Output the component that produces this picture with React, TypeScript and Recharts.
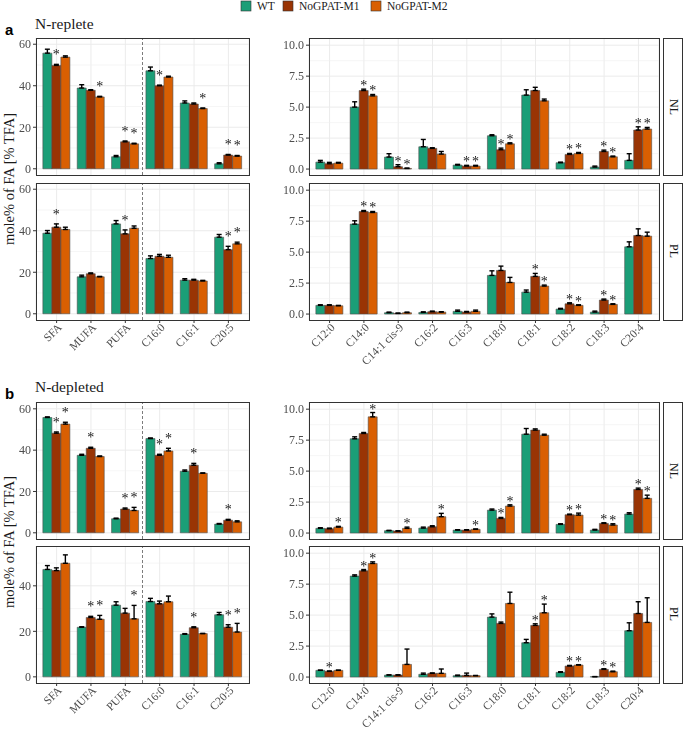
import React from "react";
import { BarChart, Bar, XAxis, YAxis, CartesianGrid, ErrorBar, LabelList, ReferenceLine } from "recharts";

const SERIF = "'Liberation Serif', 'Times New Roman', serif";
const SANS = "'Liberation Sans', Arial, sans-serif";

const GENOTYPES = ["WT", "NoGPAT-M1", "NoGPAT-M2"];
const COLORS = ["#1b9e77", "#993404", "#d95f02"];

const CLASS_CATS = ["SFA", "MUFA", "PUFA", "C16:0", "C16:1", "C20:5"];
const SPECIES_CATS = ["C12:0", "C14:0", "C14:1 cis-9", "C16:2", "C16:3", "C18:0", "C18:1", "C18:2", "C18:3", "C20:4"];

const CLASS_TICKS = [0, 20, 40, 60];
const CLASS_MINOR = [10, 30, 50];
const SPECIES_TICKS = [0, 2.5, 5, 7.5, 10];
const SPECIES_MINOR = [1.25, 3.75, 6.25, 8.75];

// rows: [WT, NoGPAT-M1, NoGPAT-M2]
// a: N-replete, NL
const A_NL_CLASS_MEAN = [[55.7, 49.8, 53.8], [38.9, 37.8, 34.6], [5.8, 13.0, 12.0], [47.2, 40.0, 44.2], [31.7, 31.2, 29.0], [2.4, 6.6, 6.1]];
const A_NL_CLASS_SD = [[1.9, 0.5, 0.6], [1.6, 0.3, 0.3], [0.6, 0.4, 0.3], [1.8, 0.3, 0.4], [1.0, 0.5, 0.3], [0.5, 0.3, 0.3]];
const A_NL_CLASS_SIG = [[0, 1, 0], [0, 0, 1], [0, 1, 1], [0, 1, 0], [0, 0, 1], [0, 1, 1]];

const A_NL_SPECIES_MEAN = [[0.56, 0.43, 0.48], [5.0, 6.34, 5.91], [0.97, 0.19, 0.05], [1.8, 1.67, 1.21], [0.32, 0.24, 0.24], [2.69, 1.56, 2.04], [5.97, 6.34, 5.51], [0.51, 1.18, 1.26], [0.16, 1.42, 0.99], [0.7, 3.15, 3.23]];
const A_NL_SPECIES_SD = [[0.14, 0.11, 0.06], [0.43, 0.11, 0.11], [0.27, 0.16, 0.03], [0.59, 0.05, 0.21], [0.06, 0.06, 0.06], [0.08, 0.13, 0.08], [0.43, 0.26, 0.14], [0.05, 0.08, 0.08], [0.08, 0.11, 0.06], [0.54, 0.26, 0.13]];
const A_NL_SPECIES_SIG = [[0, 0, 0], [0, 1, 1], [0, 1, 1], [0, 0, 0], [0, 1, 1], [0, 1, 1], [0, 0, 0], [0, 1, 1], [0, 1, 1], [0, 1, 1]];

// a: N-replete, PL
const A_PL_CLASS_MEAN = [[38.8, 41.7, 40.6], [17.8, 19.3, 17.8], [43.3, 38.5, 41.2], [26.6, 27.7, 27.2], [16.2, 16.2, 15.8], [36.9, 30.9, 33.7]];
const A_PL_CLASS_SD = [[1.3, 1.6, 1.1], [0.8, 0.4, 0.2], [1.6, 1.9, 1.1], [1.3, 0.9, 1.0], [0.7, 0.4, 0.3], [1.3, 1.6, 0.8]];
const A_PL_CLASS_SIG = [[0, 1, 0], [0, 0, 0], [0, 1, 0], [0, 0, 0], [0, 0, 0], [0, 1, 1]];

const A_PL_SPECIES_MEAN = [[0.7, 0.7, 0.67], [7.26, 8.28, 8.2], [0.11, 0.05, 0.11], [0.13, 0.19, 0.16], [0.22, 0.16, 0.22], [3.12, 3.52, 2.55], [1.77, 3.04, 2.26], [0.4, 0.83, 0.7], [0.16, 1.13, 0.78], [5.43, 6.34, 6.29]];
const A_PL_SPECIES_SD = [[0.05, 0.05, 0.03], [0.27, 0.08, 0.08], [0.05, 0.03, 0.05], [0.05, 0.05, 0.03], [0.1, 0.05, 0.1], [0.37, 0.35, 0.41], [0.17, 0.24, 0.08], [0.06, 0.08, 0.05], [0.08, 0.08, 0.05], [0.4, 0.54, 0.32]];
const A_PL_SPECIES_SIG = [[0, 0, 0], [0, 1, 1], [0, 0, 0], [0, 0, 0], [0, 0, 0], [0, 0, 0], [0, 1, 1], [0, 1, 1], [0, 1, 1], [0, 0, 0]];

// b: N-depleted, NL
const B_NL_CLASS_MEAN = [[55.8, 48.2, 52.6], [37.5, 40.9, 36.9], [6.8, 11.5, 10.8], [45.6, 37.5, 39.6], [29.8, 32.7, 28.8], [4.2, 6.1, 5.3]];
const B_NL_CLASS_SD = [[0.3, 0.6, 0.9], [0.5, 0.5, 0.3], [0.3, 0.5, 1.5], [0.3, 0.5, 1.3], [0.6, 0.9, 0.2], [0.3, 0.4, 0.5]];
const B_NL_CLASS_SIG = [[0, 1, 1], [0, 1, 0], [0, 1, 1], [0, 1, 1], [0, 1, 0], [0, 1, 0]];

const B_NL_SPECIES_MEAN = [[0.38, 0.35, 0.48], [7.61, 8.04, 9.38], [0.19, 0.16, 0.38], [0.4, 0.51, 1.32], [0.24, 0.24, 0.3], [1.85, 1.18, 2.18], [7.98, 8.31, 7.9], [0.7, 1.48, 1.45], [0.24, 0.78, 0.65], [1.53, 3.52, 2.8]];
const B_NL_SPECIES_SD = [[0.05, 0.05, 0.06], [0.16, 0.08, 0.35], [0.03, 0.02, 0.1], [0.08, 0.08, 0.27], [0.03, 0.03, 0.03], [0.09, 0.08, 0.1], [0.46, 0.1, 0.08], [0.05, 0.05, 0.16], [0.06, 0.05, 0.1], [0.11, 0.11, 0.26]];
const B_NL_SPECIES_SIG = [[0, 0, 1], [0, 0, 1], [0, 0, 1], [0, 0, 1], [0, 0, 1], [0, 1, 1], [0, 0, 0], [0, 1, 1], [0, 1, 1], [0, 1, 1]];

// b: N-depleted, PL
const B_PL_CLASS_MEAN = [[47.2, 46.7, 49.9], [21.8, 26.1, 25.3], [31.5, 28.0, 25.5], [33.1, 32.1, 33.0], [18.7, 21.6, 19.0], [27.3, 21.8, 19.7]];
const B_PL_CLASS_SD = [[1.7, 1.2, 3.7], [0.2, 0.5, 1.7], [1.5, 2.1, 5.9], [1.4, 1.2, 2.5], [0.3, 0.4, 0.1], [1.0, 1.1, 3.8]];
const B_PL_CLASS_SIG = [[0, 0, 0], [0, 1, 1], [0, 0, 1], [0, 0, 0], [0, 1, 0], [0, 1, 1]];

const B_PL_SPECIES_MEAN = [[0.54, 0.46, 0.54], [8.15, 8.58, 9.17], [0.16, 0.16, 1.02], [0.22, 0.3, 0.3], [0.11, 0.13, 0.11], [4.84, 4.33, 5.94], [2.77, 4.17, 5.19], [0.38, 0.89, 0.97], [0.03, 0.62, 0.43], [3.74, 5.13, 4.41]];
const B_PL_SPECIES_SD = [[0.02, 0.03, 0.02], [0.1, 0.1, 0.13], [0.02, 0.02, 1.24], [0.1, 0.03, 0.35], [0.05, 0.19, 0.02], [0.26, 0.11, 0.91], [0.27, 0.13, 0.7], [0.05, 0.05, 0.03], [0.01, 0.05, 0.05], [0.64, 0.95, 1.99]];
const B_PL_SPECIES_SIG = [[0, 1, 0], [0, 1, 1], [0, 0, 0], [0, 0, 0], [0, 0, 0], [0, 0, 0], [0, 1, 1], [0, 1, 1], [0, 1, 1], [0, 0, 0]];

const buildRows = (cats: string[], mean: number[][], sd: number[][], sig: number[][]) =>
  cats.map((cat, i) => {
    const row: any = { cat };
    [0, 1, 2].forEach((g) => {
      row[`v${g}`] = mean[i][g];
      row[`e${g}`] = [0, sd[i][g]];
      row[`g${g}`] = sd[i][g];
      row[`s${g}`] = sig[i][g] ? "*" : "";
    });
    return row;
  });

const RotTick = (props: any) => {
  const { x, y, payload, blank } = props;
  if (blank) return <g />;
  return (
    <text x={x} y={y} transform={`rotate(-45 ${x} ${y})`} textAnchor="end" dy="0.55em" dx={2}
      fontSize={11.5} fill="#4d4d4d" fontFamily={SERIF}>
      {payload.value}
    </text>
  );
};

const YTick = (props: any) => {
  const { x, y, payload, fmt } = props;
  const label = fmt ? fmt(payload.value) : String(payload.value);
  return (
    <text x={x} y={y} textAnchor="end" dy="0.355em" fontSize={12} fill="#4d4d4d" fontFamily={SERIF}>{label}</text>
  );
};

const starLabel = (gap: number) => (props: any) => {
  if (!props.value) return null;
  const vb = props.viewBox || {};
  const x = vb.x ?? props.x;
  const y = vb.y ?? props.y;
  const w = vb.width ?? props.width;
  return (
    <text x={x + w / 2} y={y - gap} textAnchor="middle" fontSize={14} fontFamily={SERIF} fill="#1a1a1a">*</text>
  );
};

interface PanelProps {
  x0: number; x1: number; y0: number; y1: number;
  cats: string[]; rows: any[];
  domain: [number, number]; ticks: number[]; minor: number[];
  fmt?: (v: number) => string;
  showX?: boolean; divider?: boolean; starGap: number;
}

const Panel = ({ x0, x1, y0, y1, cats, rows, domain, ticks, minor, fmt, showX = false, divider = false, starGap }: PanelProps) => {
  const yW = 36, mt = 4, mr = 2;
  const xH = showX ? 60 : 20;
  const plotW = x1 - x0;
  const n = cats.length;
  const pad = (plotW - (n * plotW) / (n + 0.2)) / 2;
  return (
    <>
      <div style={{ position: "absolute", left: x0 - yW, top: y0 - mt, willChange: "transform", pointerEvents: "none" }}>
        <BarChart width={plotW + yW + mr} height={y1 - y0 + mt + xH} data={rows}
          margin={{ top: mt, right: mr, bottom: 0, left: 0 }} barCategoryGap="10%" barGap={0}>
          <CartesianGrid horizontal={false} stroke="#ebebeb" strokeWidth={1} />
          <CartesianGrid vertical={false} horizontalValues={minor} stroke="#f0f0f0" strokeWidth={0.6} />
          <CartesianGrid vertical={false} horizontalValues={ticks} stroke="#ebebeb" strokeWidth={1} />
          <XAxis dataKey="cat" height={xH} interval={0} padding={{ left: pad, right: pad }}
            tick={<RotTick blank={!showX} />} tickSize={3} tickLine={{ stroke: showX ? "#333" : "none" }} axisLine={false} />
          <YAxis type="number" domain={domain} allowDataOverflow ticks={ticks} interval={0} width={yW}
            tick={<YTick fmt={fmt} />} tickSize={3} tickLine={{ stroke: "#333" }} axisLine={false} />
          {divider && <ReferenceLine x="C16:0" position="start" stroke="#444" strokeDasharray="3 2" strokeWidth={0.7} />}
          {[0, 1, 2].map((g) => [
            <Bar key={`b${g}`} dataKey={`v${g}`} name={GENOTYPES[g]} stackId={`s${g}`} fill={COLORS[g]}
              stroke="#4d4d4d" strokeWidth={0.6} isAnimationActive={false}>
              <ErrorBar dataKey={`e${g}`} direction="y" width={2.5} stroke="#000" strokeWidth={1.4} />
            </Bar>,
            <Bar key={`t${g}`} dataKey={`g${g}`} stackId={`s${g}`} fill="none" isAnimationActive={false}>
              <LabelList dataKey={`s${g}`} content={starLabel(starGap)} />
            </Bar>,
          ])}
        </BarChart>
      </div>
      <div style={{ position: "absolute", left: x0 - 0.5, top: y0 - 0.5, width: plotW + 1, height: y1 - y0 + 1,
        border: "1px solid #333", boxSizing: "border-box", pointerEvents: "none" }} />
    </>
  );
};

const Strip = ({ y0, y1, label }: { y0: number; y1: number; label: string }) => (
  <div style={{ position: "absolute", left: 663, top: y0 - 0.5, width: 20, height: y1 - y0 + 1,
    border: "1px solid #333", boxSizing: "border-box", background: "#fff",
    display: "flex", alignItems: "center", justifyContent: "center" }}>
    <span style={{ writingMode: "vertical-rl", fontFamily: SERIF, fontSize: 12, color: "#1a1a1a" }}>{label}</span>
  </div>
);

const fmt1 = (v: number) => v.toFixed(1);

const LEFT = [36, 249];
const RIGHT = [309, 659];

const Section = ({ top, nl, pl, nlClassDomain, plClassDomain, plClassTicks }: any) => (
  <>
    <Panel x0={LEFT[0]} x1={LEFT[1]} y0={nl[0]} y1={nl[1]} cats={CLASS_CATS} rows={top.nlClass}
      domain={nlClassDomain} ticks={CLASS_TICKS} minor={CLASS_MINOR} divider starGap={5} />
    <Panel x0={RIGHT[0]} x1={RIGHT[1]} y0={nl[0]} y1={nl[1]} cats={SPECIES_CATS} rows={top.nlSpecies}
      domain={[-0.48, 10.58]} ticks={SPECIES_TICKS} minor={SPECIES_MINOR} fmt={fmt1} starGap={-1} />
    <Panel x0={LEFT[0]} x1={LEFT[1]} y0={pl[0]} y1={pl[1]} cats={CLASS_CATS} rows={top.plClass}
      domain={plClassDomain} ticks={plClassTicks} minor={CLASS_MINOR} divider showX starGap={5} />
    <Panel x0={RIGHT[0]} x1={RIGHT[1]} y0={pl[0]} y1={pl[1]} cats={SPECIES_CATS} rows={top.plSpecies}
      domain={[-0.48, 10.58]} ticks={SPECIES_TICKS} minor={SPECIES_MINOR} fmt={fmt1} showX starGap={-1} />
    <Strip y0={nl[0]} y1={nl[1]} label="NL" />
    <Strip y0={pl[0]} y1={pl[1]} label="PL" />
  </>
);

export default function App() {
  const a = {
    nlClass: buildRows(CLASS_CATS, A_NL_CLASS_MEAN, A_NL_CLASS_SD, A_NL_CLASS_SIG),
    plClass: buildRows(CLASS_CATS, A_PL_CLASS_MEAN, A_PL_CLASS_SD, A_PL_CLASS_SIG),
    nlSpecies: buildRows(SPECIES_CATS, A_NL_SPECIES_MEAN, A_NL_SPECIES_SD, A_NL_SPECIES_SIG),
    plSpecies: buildRows(SPECIES_CATS, A_PL_SPECIES_MEAN, A_PL_SPECIES_SD, A_PL_SPECIES_SIG),
  };
  const b = {
    nlClass: buildRows(CLASS_CATS, B_NL_CLASS_MEAN, B_NL_CLASS_SD, B_NL_CLASS_SIG),
    plClass: buildRows(CLASS_CATS, B_PL_CLASS_MEAN, B_PL_CLASS_SD, B_PL_CLASS_SIG),
    nlSpecies: buildRows(SPECIES_CATS, B_NL_SPECIES_MEAN, B_NL_SPECIES_SD, B_NL_SPECIES_SIG),
    plSpecies: buildRows(SPECIES_CATS, B_PL_SPECIES_MEAN, B_PL_SPECIES_SD, B_PL_SPECIES_SIG),
  };
  const legendX = [241, 283, 371];
  return (
    <div style={{ position: "absolute", left: 0, top: 0, width: 685, height: 732, background: "#fff", overflow: "hidden" }}>
      <svg width={685} height={732} style={{ position: "absolute", left: 0, top: 0 }}>
        {GENOTYPES.map((g, i) => (
          <g key={g}>
            <rect x={legendX[i]} y={1} width={10} height={10} fill={COLORS[i]} stroke="#333" strokeWidth={0.6} />
            <text x={legendX[i] + 16} y={10} fontSize={11.5} fontFamily={SERIF} fill="#1a1a1a">{g}</text>
          </g>
        ))}
        <text x={5} y={35} fontSize={15} fontWeight="bold" fontFamily={SANS}>a</text>
        <text x={35} y={28.5} fontSize={15.5} fontFamily={SERIF} fill="#1a1a1a">N-replete</text>
        <text x={5} y={399} fontSize={15} fontWeight="bold" fontFamily={SANS}>b</text>
        <text x={35} y={391.5} fontSize={15.5} fontFamily={SERIF} fill="#1a1a1a">N-depleted</text>
        <text transform="translate(9,179) rotate(-90)" textAnchor="middle" dominantBaseline="central"
          fontSize={14.5} fontFamily={SERIF} fill="#1a1a1a">mole% of FA [% TFA]</text>
        <text transform="translate(9,542) rotate(-90)" textAnchor="middle" dominantBaseline="central"
          fontSize={14.5} fontFamily={SERIF} fill="#1a1a1a">mole% of FA [% TFA]</text>
      </svg>
      <Section top={a} nl={[38, 175]} pl={[183, 320]} nlClassDomain={[-3, 63]} plClassDomain={[-3, 63]} plClassTicks={CLASS_TICKS} />
      <Section top={b} nl={[402, 539]} pl={[546, 683]} nlClassDomain={[-3, 63.3]} plClassDomain={[-2.7, 57.5]} plClassTicks={[0, 20, 40]} />
    </div>
  );
}
